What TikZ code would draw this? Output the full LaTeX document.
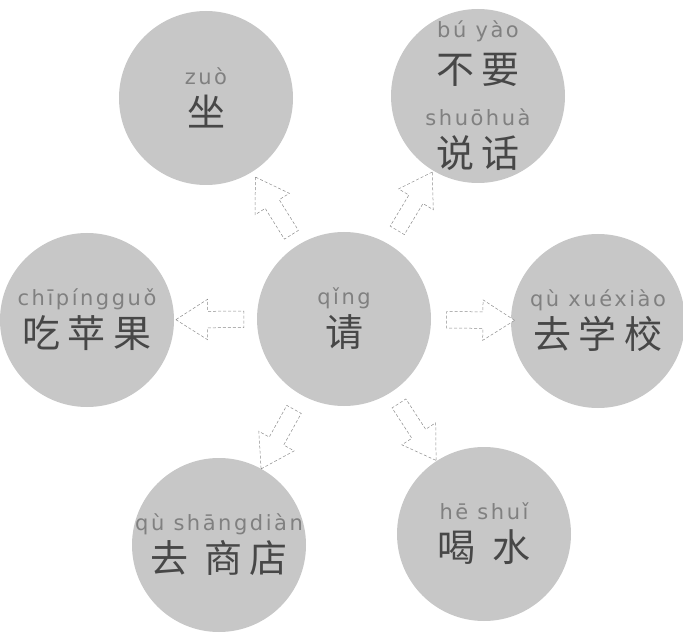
\documentclass[tikz,border=0pt]{standalone}
\usepackage{fontspec}
\usepackage{tikz}
\usetikzlibrary{shapes.arrows}
\newfontfamily\hzfont[LetterSpace=20]{Noto Sans CJK SC}
\newfontfamily\pyfont[LetterSpace=12]{DejaVu Sans}
\newcommand{\py}[1]{{\pyfont\fontsize{21pt}{22pt}\selectfont\color{black!50}#1}}
\newcommand{\hz}[1]{{\hzfont\fontsize{38pt}{42pt}\selectfont\color{black!72}#1}}
\tikzset{
	wordblock/.style={align=center, inner sep=0pt, font=\fontsize{38pt}{42pt}\selectfont},
	bubble/.style={circle, fill=black!22, minimum size=174pt, inner sep=0pt, label={[wordblock]center:{#1}}},
	hollowarrow/.style={single arrow, draw=black!45, densely dashed, line width=0.5pt, fill=white, minimum height=68pt, inner xsep=0pt, inner ysep=8pt, single arrow head extend=12pt, single arrow tip angle=65, sloped, allow upside down}
}

\begin{document}
\begin{tikzpicture}[x=1pt,y=1pt]
			%%Location
			\useasboundingbox (0,0) rectangle (683,633);
			%%Circles
			\node[bubble={\py{qǐng}\\\hz{请}}] (qing) at (344,314) {};
			\node[bubble={\py{zuò}\\\hz{坐}}] (zuo) at (206,535) {};
			\node[bubble={\py{bú yào}\\[4pt]\hz{不要}\\\py{shuōhuà}\\\hz{说话}}] (buyao) at (478,537) {};
			\node[bubble={\py{chīpíngguǒ}\\\hz{吃苹果}}] (pingguo) at (87,313) {};
			\node[bubble={\py{qù xuéxiào}\\\hz{去学校}}] (xuexiao) at (598,312) {};
			\node[bubble={\py{qù shāngdiàn}\\\hz{去 商店}}] (shangdian) at (219,88) {};
			\node[bubble={\py{hē shuǐ}\\\hz{喝 水}}] (heshui) at (484,99) {};
			
			%%Arrows
			\path (qing) -- (zuo) node[hollowarrow, pos=.46] {};
			\path (qing) -- (buyao) node[hollowarrow, pos=.51] {};
			\path (qing) -- (pingguo) node[hollowarrow, pos=.49] {};
			\path (qing) -- (xuexiao) node[hollowarrow, pos=.54] {};
			\path (qing) -- (shangdian) node[hollowarrow, pos=.52] {};
			\path (qing) -- (heshui) node[hollowarrow, pos=.5] {};
\end{tikzpicture}
\end{document}
